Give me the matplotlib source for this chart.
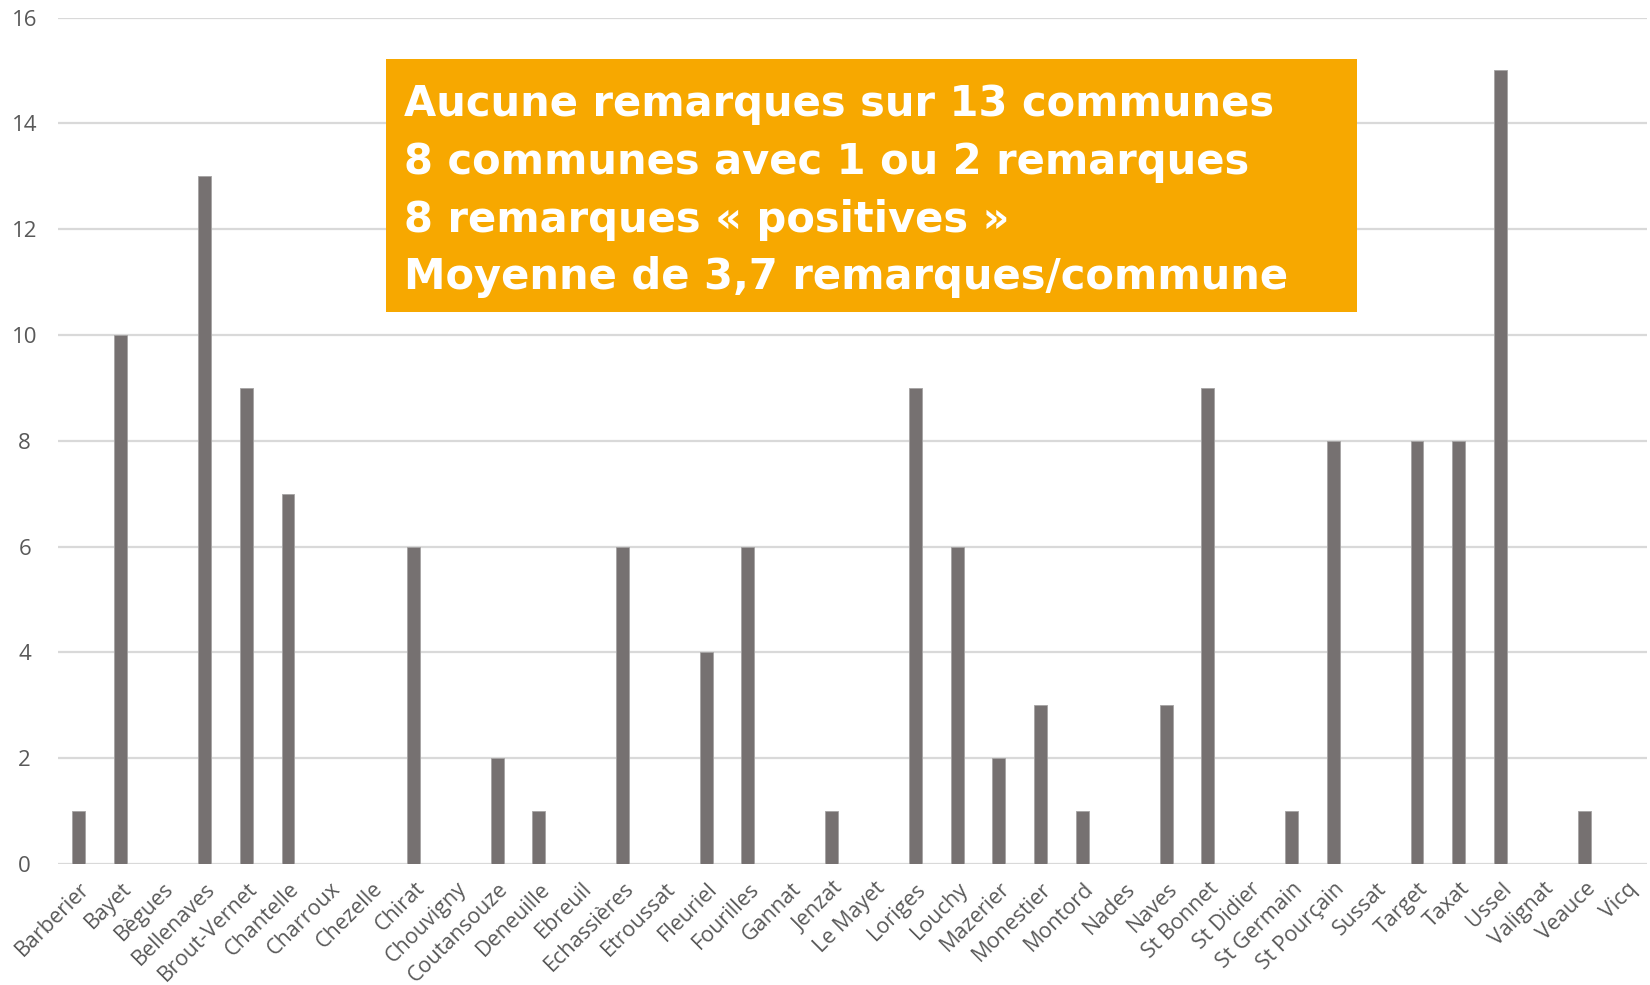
#!/usr/bin/env python3
"""Remarques par commune - bar chart with summary box."""

import matplotlib

matplotlib.use("Agg")
import matplotlib.pyplot as plt
import matplotlib.transforms as mtransforms
import numpy as np
from matplotlib.patches import Rectangle

communes = [
    "Barberier", "Bayet", "Bègues", "Bellenaves", "Brout-Vernet", "Chantelle",
    "Charroux", "Chezelle", "Chirat", "Chouvigny", "Coutansouze", "Deneuille",
    "Ebreuil", "Echassières", "Etroussat", "Fleuriel", "Fourilles", "Gannat",
    "Jenzat", "Le Mayet", "Loriges", "Louchy", "Mazerier", "Monestier",
    "Montord", "Nades", "Naves", "St Bonnet", "St Didier", "St Germain",
    "St Pourçain", "Sussat", "Target", "Taxat", "Ussel", "Valignat", "Veauce",
    "Vicq",
]
remarques = [
    1, 10, 0, 13, 9, 7,
    0, 0, 6, 0, 2, 1,
    0, 6, 0, 4, 6, 0,
    1, 0, 9, 6, 2, 3,
    1, 0, 3, 9, 0, 1,
    8, 0, 8, 8, 15, 0, 1,
    0,
]
y_ticks = [0, 2, 4, 6, 8, 10, 12, 14, 16]
summary_lines = [
    "Aucune remarques sur 13 communes",
    "8 communes avec 1 ou 2 remarques",
    "8 remarques « positives »",
    "Moyenne de 3,7 remarques/commune",
]

W, H = 1650, 985
fig = plt.figure(figsize=(W / 100, H / 100), dpi=100)
ax = fig.add_axes([58 / W, 1 - 864 / H, (1647 - 58) / W, (864 - 17.5) / H])

x = np.arange(len(communes))
ax.bar(x, remarques, width=0.31, color="#767171", edgecolor="#a5a3a3",
       linewidth=0.6, zorder=3)

ax.set_xlim(-0.5, len(communes) - 0.5)
ax.set_ylim(0, 16)
ax.set_yticks(y_ticks)
ax.yaxis.grid(True, color="#d9d9d9", linewidth=1.6, zorder=0)
for s in ax.spines.values():
    s.set_visible(False)
ax.tick_params(length=0)

ax.set_yticklabels([str(v) for v in y_ticks], family="Open Sans",
                   fontsize=16, color="#595959", ha="center")
ax.tick_params(axis="y", pad=24)

ax.set_xticks(x)
ax.set_xticklabels(communes, family="Open Sans", fontsize=15.5,
                   color="#595959", rotation=45, ha="right", va="center",
                   rotation_mode="anchor")
ax.tick_params(axis="x", pad=12)
# nudge labels right/down like the original
shift = mtransforms.ScaledTranslation(8 / 100, -5 / 100, fig.dpi_scale_trans)
for lbl in ax.get_xticklabels():
    lbl.set_transform(lbl.get_transform() + shift)

# summary box
fig.patches.append(Rectangle((386 / W, 1 - 312 / H), (1357 - 386) / W,
                             (312 - 59) / H, transform=fig.transFigure,
                             facecolor="#f7a800", edgecolor="none", zorder=5))
baselines = [116, 174, 232, 289]
for line, yb in zip(summary_lines, baselines):
    fig.text(404 / W, 1 - yb / H, line, family="DejaVu Sans",
             fontweight="bold", fontsize=30, color="white",
             ha="left", va="baseline", zorder=6)

fig.savefig("out.png", dpi=100)
